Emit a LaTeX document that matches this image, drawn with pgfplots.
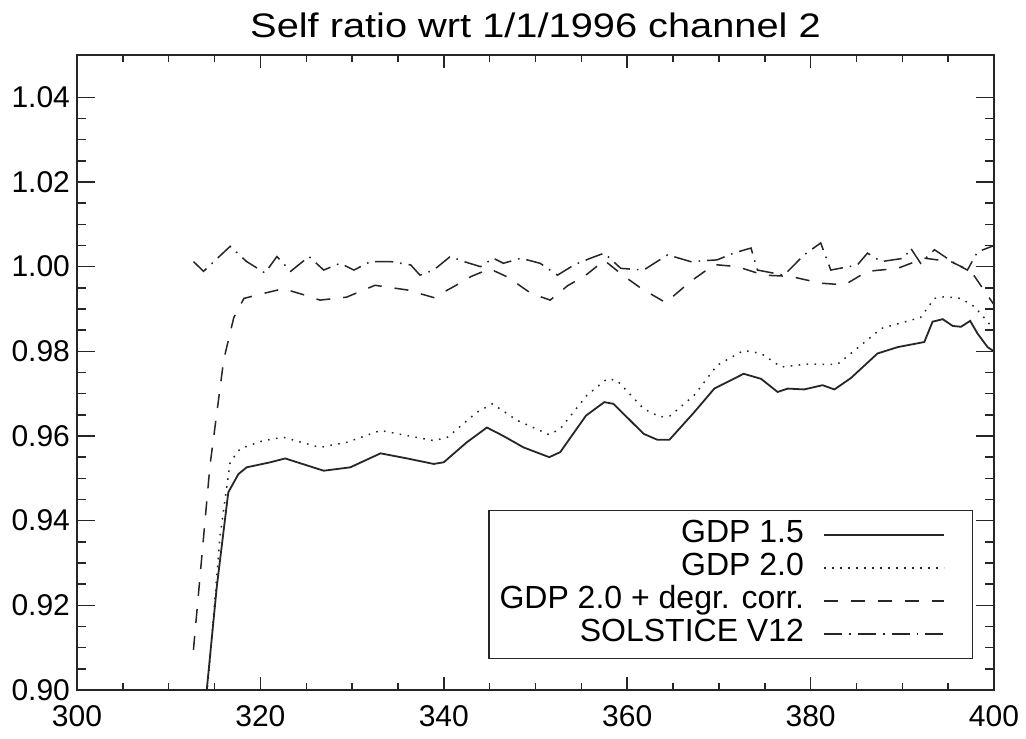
\documentclass[border=0pt]{standalone}
\usepackage{graphicx}
\usepackage{pgfplots}
\pgfplotsset{compat=1.18}
\usepackage{fontspec}
\setmainfont{Liberation Sans}
\usetikzlibrary{calc}
\definecolor{ink}{gray}{0.15}
\begin{document}
\begin{tikzpicture}
\begin{axis}[
  scale only axis,
  width=458.5pt, height=317.5pt,
  xmin=300, xmax=400, ymin=0.90, ymax=1.05,
  xtick={300,320,340,360,380,400},
  ytick={0.90,0.92,0.94,0.96,0.98,1.00,1.02,1.04},
  minor x tick num=3, minor y tick num=3,
  tick align=inside,
  major tick length=9pt, minor tick length=4.5pt,
  xtick style={/pgfplots/major tick length=6.5pt,/pgfplots/minor tick length=3.5pt},
  axis line style={ink, line width=0.75pt},
  every tick/.style={ink, line width=0.75pt},
  tick label style={font=\fontsize{15}{18}\selectfont, text=black},
  /pgf/number format/assume math mode=true,
  yticklabel style={/pgf/number format/.cd, fixed, fixed zerofill, precision=2},
  xticklabel style={yshift=-4pt, /pgf/number format/.cd, fixed, precision=0, 1000 sep={}},
  legend plot pos=right,
  legend cell align=right,
  legend image code/.code={\draw[#1] (0pt,0pt) -- (60pt,0pt); \path (69pt,0pt);},
  legend style={at={(rel axis cs:1,0)}, anchor=south east, xshift=-10.5pt, yshift=15.5pt,
    draw=ink, line width=0.75pt, fill=white,
    font=\fontsize{16}{18}\selectfont,
    inner xsep=4.5pt, inner ysep=4pt, column sep=9pt, row sep=0pt,
    nodes={text height=11.5pt, text depth=3.5pt, inner sep=0.75pt}},
]
\addplot[ink, line width=0.9pt] coordinates {
(314.0,0.897) (314.15,0.900) (315.25,0.9245) (316.5,0.9467) (317.6,0.951) (318.5,0.9526)
(321.1,0.9538) (322.7,0.9547) (326.9,0.9518) (329.8,0.9526) (333.1,0.9559) (336.0,0.9547)
(338.9,0.9534) (340.0,0.9538) (342.5,0.9585) (344.7,0.9620) (346.5,0.9600) (348.7,0.9573)
(351.5,0.9550) (352.7,0.9562) (355.5,0.9648) (357.5,0.9680) (358.5,0.9676) (361.8,0.9605)
(363.3,0.9591) (364.6,0.9591) (367.3,0.9656) (369.5,0.9712) (372.7,0.9747) (374.6,0.9735)
(376.4,0.9704) (377.5,0.9712) (379.3,0.9710) (381.3,0.9720) (382.6,0.9710) (384.4,0.9737)
(387.3,0.9795) (389.5,0.9810) (392.4,0.9822) (393.3,0.9870) (394.4,0.9876) (395.5,0.9860)
(396.4,0.9858) (397.4,0.9872) (398.2,0.9842) (399.3,0.9810) (400.0,0.9800)
};
\addlegendentry{GDP 1.5}
\addplot[ink, line width=0.75pt, dash pattern=on 0.8pt off 3.2pt] coordinates {
(314.0,0.897) (314.3,0.902) (315.6,0.9364) (316.7,0.9538) (317.8,0.9570) (320.3,0.9589)
(322.5,0.9597) (326.5,0.9573) (329.4,0.9585) (333.1,0.9613) (336.0,0.9601) (338.9,0.9589)
(340.4,0.9597) (343.6,0.9656) (345.3,0.9676) (348.0,0.9637) (351.5,0.9603) (352.7,0.9617)
(355.6,0.9696) (357.8,0.9735) (358.9,0.9731) (361.8,0.9664) (363.6,0.9645) (364.7,0.9648)
(367.3,0.9696) (369.8,0.9767) (372.7,0.9802) (374.6,0.9795) (376.8,0.9763) (379.7,0.9770)
(382.9,0.9769) (384.4,0.9795) (387.7,0.9854) (392.0,0.9880) (393.5,0.9925) (394.6,0.9929)
(396.4,0.9925) (397.9,0.9905) (399.3,0.9870) (400.0,0.9850)
};
\addlegendentry{GDP 2.0}
\addplot[ink, line width=0.75pt, dash pattern=on 7pt off 6.5pt] coordinates {
(312.7,0.9095) (314.5,0.953) (316.0,0.978) (317.1,0.988) (318.2,0.9925) (320.0,0.9935)
(322.5,0.9948) (324.5,0.9935) (326.5,0.9921) (329.4,0.9928) (332.5,0.9956) (336.0,0.9945)
(338.9,0.9927) (341.1,0.9953) (343.0,0.9977) (345.0,0.9995) (347.0,0.9975) (349.5,0.9937)
(351.6,0.9921) (353.5,0.9955) (355.5,0.9980) (357.5,1.0015) (359.5,0.9980) (361.5,0.9949)
(364.2,0.9915) (366.9,0.9965) (369.5,1.0005) (372.0,1.0000) (374.9,0.9980) (377.8,0.9977)
(381.1,0.9961) (383.7,0.9957) (386.2,0.9989) (389.5,0.9996) (392.4,1.0020) (395.3,1.0012)
(397.5,0.9989) (400.0,0.9910)
};
\addlegendentry{GDP 2.0 + degr. corr.}
\addplot[ink, line width=0.75pt, dash pattern=on 9pt off 3.5pt on 0.8pt off 3.5pt] coordinates {
(312.7,1.0012) (313.8,0.9989) (316.7,1.0048) (318.5,1.0012) (320.5,0.9985) (321.8,1.0024)
(323.3,0.9989) (325.3,1.0024) (326.9,0.9992) (328.7,1.0008) (330.2,0.9992) (332.0,1.0012)
(334.2,1.0012) (336.4,1.0004) (337.4,0.9980) (338.9,0.9992) (340.7,1.0024) (342.2,1.0012)
(344.0,1.0000) (345.4,1.0020) (346.5,1.0008) (348.4,1.0020) (350.5,1.0008) (352.4,0.9980)
(354.2,1.0004) (356.0,1.0020) (357.5,1.0032) (359.3,0.9996) (361.8,0.9992) (364.4,1.0028)
(366.9,1.0012) (369.8,1.0016) (371.6,1.0032) (373.5,1.0044) (374.2,0.9992) (377.1,0.9980)
(379.3,1.0028) (381.1,1.0056) (382.2,0.9992) (385.1,1.0004) (386.2,1.0032) (387.7,1.0012)
(390.2,1.0020) (390.9,1.0044) (392.0,1.0008) (393.5,1.0040) (395.7,1.0008) (397.1,0.9992)
(398.2,1.0035) (399.3,1.0044) (400.0,1.0050)
};
\addlegendentry{SOLSTICE V12}
\coordinate (sw) at (rel axis cs:0,0);
\coordinate (ne) at (rel axis cs:1,1);
\coordinate (nc) at (rel axis cs:0.5,1);
\end{axis}
\node[anchor=base, yshift=8.85pt, inner sep=0pt] at (nc)
  {\scalebox{1.17}[1]{\fontsize{17}{20}\selectfont Self ratio wrt 1/1/1996 channel 2}};
\pgfresetboundingbox
\path[use as bounding box] ($(sw)+(-38.5pt,-24pt)$) rectangle ($(ne)+(16pt,27.5pt)$);
\end{tikzpicture}
\end{document}
